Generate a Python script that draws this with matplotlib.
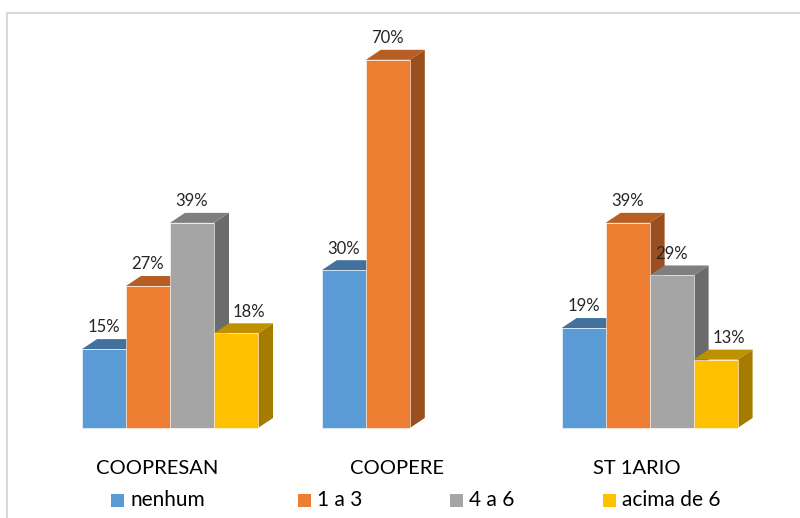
import numpy as np
import matplotlib.pyplot as plt
from matplotlib.patches import Polygon, Rectangle

plt.rcParams['font.family'] = ['Lato', 'DejaVu Sans']

# dados
grupos = ['COOPRESAN', 'COOPERE', 'ST 1ARIO']
series = ['nenhum', '1 a 3', '4 a 6', 'acima de 6']
nenhum = [15, 30, 19]
um_a_tres = [27, 70, 39]
quatro_a_seis = [39, np.nan, 29]
acima_de_seis = [18, np.nan, 13]
valores = [nenhum, um_a_tres, quatro_a_seis, acima_de_seis]

# cores: frente, topo, lado
frente = ['#5B9BD5', '#ED7D31', '#A5A5A5', '#FFC000']
topo = ['#41719C', '#B65E23', '#7F7F7F', '#BF9000']
lado = ['#3A6690', '#9C4F1E', '#6B6B6B', '#A67C00']

fig = plt.figure(figsize=(8, 5.18), dpi=100)
ax = fig.add_axes([0, 0, 1, 1])

px_x = 44.0   # pixels por unidade x (largura da barra)
px_y = 5.26   # pixels por %
ax.set_xlim(-170 / px_x, (800 - 170) / px_x)
ax.set_ylim(-(518 - 428) / px_y, 428 / px_y)
ax.axis('off')

dx = 15 / px_x
dy = 10 / px_y
centros = np.array([0, 5.45, 10.9])
desloc = [-1.5, -0.5, 0.5, 1.5]
desloc_rotulo = [0, 0, 0, 0.3]  # rotulo amarelo fica deslocado a direita

for g in range(len(grupos)):
    for s in range(len(series)):
        v = valores[s][g]
        if np.isnan(v):
            continue
        x0 = centros[g] + desloc[s] - 0.5
        x1 = x0 + 1
        # lado
        ax.add_patch(Polygon([(x1, 0), (x1 + dx, dy), (x1 + dx, v + dy), (x1, v)],
                             closed=True, fc=lado[s], ec='none', zorder=2))
        # topo
        ax.add_patch(Polygon([(x0, v), (x0 + dx, v + dy), (x1 + dx, v + dy), (x1, v)],
                             closed=True, fc=topo[s], ec='none', zorder=2))
        # frente
        ax.bar(x0 + 0.5, v, width=1, color=frente[s], edgecolor='#FFFFFF',
               linewidth=0.4, zorder=2)
        ax.text(x0 + 0.5 + desloc_rotulo[s], v + dy + 0.7, '%d%%' % v, ha='center',
                va='bottom', fontsize=12, color='#262626')

for g in range(len(grupos)):
    ax.text(centros[g] - 0.28, -7.7, grupos[g], ha='center', va='center',
            fontsize=14.5, color='#000000')

# legenda (posicoes em pixels)
leg_x = [111, 298, 450, 603]
leg_y = 518 - 500
for s in range(len(series)):
    fig.add_artist(Rectangle((leg_x[s] / 800, (leg_y - 6.5) / 518), 13 / 800, 13 / 518,
                             transform=fig.transFigure, fc=frente[s], ec='none'))
    fig.text((leg_x[s] + 19) / 800, leg_y / 518, series[s], ha='left', va='center',
             fontsize=15, color='#000000')

# moldura cinza
fig.add_artist(plt.Line2D([7 / 800, 7 / 800], [0, 1 - 13 / 518], transform=fig.transFigure,
                          color='#D9D9D9', lw=1.5))
fig.add_artist(plt.Line2D([7 / 800, 1], [1 - 13 / 518, 1 - 13 / 518], transform=fig.transFigure,
                          color='#D9D9D9', lw=1.5))

plt.savefig('out.png', dpi=100)
